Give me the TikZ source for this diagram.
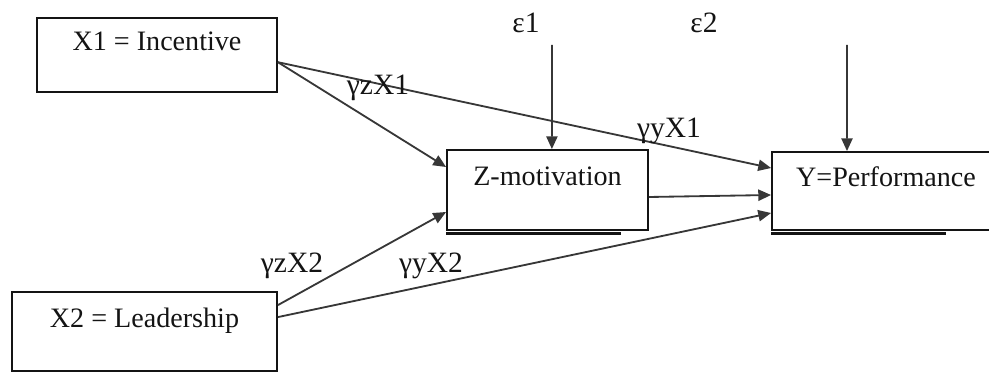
\documentclass[tikz,border=0pt]{standalone}
\usepackage{fontspec}
\setmainfont{Liberation Serif}
\usetikzlibrary{arrows.meta,positioning,calc}
\definecolor{PMink}{RGB}{20,20,20}
\definecolor{PMline}{RGB}{55,55,55}
\tikzset{
  varbox/.style={draw=PMink,line width=1.3pt,fill=white,text=PMink,
                 text height=0.55cm,text depth=0.75cm,inner sep=0pt,
                 font=\fontsize{20}{24}\selectfont},
  coef/.style={text=PMink,inner sep=0pt,font=\fontsize{21}{25}\selectfont},
  pth/.style={-{Triangle[length=0.32cm,width=0.28cm]},line width=1.3pt,draw=PMline},
  shade/.style={line width=1.8pt,draw=PMink},
}

\begin{document}
\begin{tikzpicture}
    \useasboundingbox (0,0) rectangle (24.725,9.325);
    \node[varbox,minimum width=6cm,minimum height=1.85cm] (inc) at (3.925,7.95) {X1 = Incentive};
    \node[varbox,minimum width=6.625cm,minimum height=1.975cm] (lead) at (3.6125,1.0375) {X2 = Leadership};
    \node[varbox,minimum width=5.025cm,minimum height=2cm] (motiv) at (13.6875,4.575) {Z-motivation};
    \node[varbox,minimum width=5.7cm,minimum height=1.95cm] (perf) at (22.15,4.55) {Y=Performance};
    \draw[shade] ([yshift=-0.06cm]motiv.south west) -- ++(4.375,0);
    \draw[shade] ([yshift=-0.06cm]perf.south west) -- ++(4.375,0);
    % error terms
    \node[coef] (e1) at (13.15,8.75) {ε1};
    \node[coef] (e2) at (17.6,8.75) {ε2};
    \coordinate (e1top) at (13.8,8.2);
    \coordinate (e2top) at (21.175,8.2);
    \draw[pth] (e1top) -- ([xshift=0.11cm]motiv.north);
    \draw[pth] (e2top) -- ([xshift=-0.975cm]perf.north);
    % paths
    \draw[pth] ([yshift=-0.18cm]inc.east) -- ([yshift=0.575cm]motiv.west);
    \draw[pth] ([yshift=-0.18cm]inc.east) -- ([yshift=0.575cm]perf.west);
    \draw[pth] ([yshift=-0.175cm]motiv.east) -- ([yshift=-0.1cm]perf.west);
    \draw[pth] ([yshift=0.66cm]lead.east) -- ([yshift=-0.55cm]motiv.west);
    \draw[pth] ([yshift=0.36cm]lead.east) -- ([yshift=-0.55cm]perf.west);
    \node[coef] (gzx1) at (9.45,7.125) {γzX1};
    \node[coef] (gyx1) at (16.725,6.05) {γyX1};
    \node[coef] (gzx2) at (7.3,2.675) {γzX2};
    \node[coef] (gyx2) at (10.775,2.675) {γyX2};
  \end{tikzpicture}
\end{document}
